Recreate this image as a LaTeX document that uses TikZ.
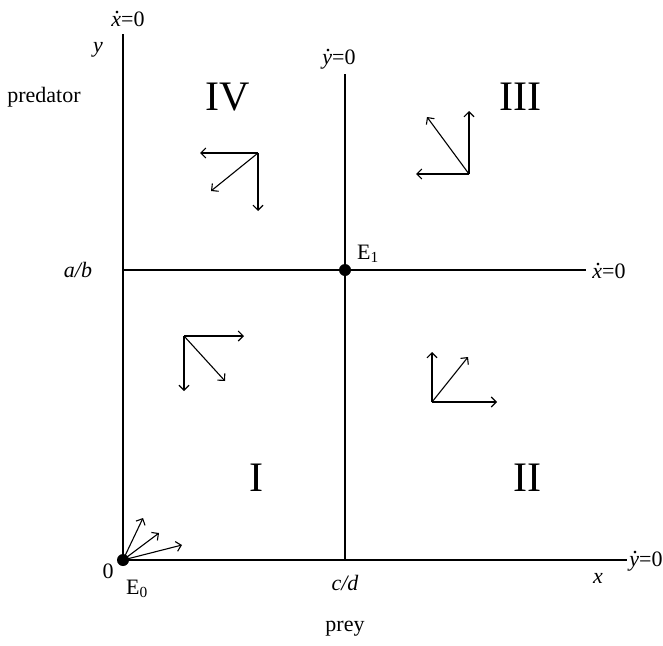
\documentclass[tikz,border=0pt]{standalone}
\usepackage{fontspec}
\setmainfont{Liberation Serif}
\usetikzlibrary{arrows.meta}
\newcommand\dotvar[1]{\makebox[0pt][l]{\hspace{0.13em}\raisebox{0.6em}{.}}\textit{#1}}
\begin{document}
\begin{tikzpicture}[x=1pt,y=-1pt,
  lbl/.style={inner sep=0pt,font=\fontsize{22}{24}\selectfont},
  roman/.style={inner sep=0pt,font=\fontsize{42}{44}\selectfont},
  axis/.style={line width=2.4pt},
  vec/.style={line width=1.1pt,-{Straight Barb[length=5pt,width=10pt,line width=1.1pt]}},
  eq/.style={circle,fill=black,inner sep=0pt,minimum size=12pt}]
\useasboundingbox (0,0) rectangle (663,645);
% axes and isoclines
\coordinate (ytop) at (123,34);
\coordinate (xend) at (627,560);
\coordinate (vtop) at (345,74);
\coordinate (vbot) at (345,560);
\coordinate (hleft) at (123,270);
\coordinate (hright) at (586,270);
\node[eq] (E0) at (123,560) {};
\node[eq] (E1) at (345,270) {};
\draw[axis] (ytop) -- (E0.center) -- (xend);
\draw[axis] (vtop) -- (vbot);
\draw[axis] (hleft) -- (hright);
% labels
\node[lbl] (xd1) at (128,19) {\dotvar{x}=0};
\node[lbl] (ylab) at (98,50) {\textit{y}};
\node[lbl] (pred) at (44,97) {predator};
\node[lbl] (yd1) at (339,59) {\dotvar{y}=0};
\node[roman] (IV) at (228,97) {IV};
\node[roman] (III) at (520,97) {III};
\node[lbl] (ab) at (78,270) {\textit{a/b}};
\node[lbl] (E1l) at (368,254) {E\textsubscript{1}};
\node[lbl] (xd2) at (609,271) {\dotvar{x}=0};
\node[roman] (I) at (256,478) {I};
\node[roman] (II) at (527,478) {II};
\node[lbl] (zero) at (108,571) {0};
\node[lbl] (E0l) at (137,589) {E\textsubscript{0}};
\node[lbl] (cd) at (345,583) {\textit{c/d}};
\node[lbl] (xlab) at (598,578) {\textit{x}};
\node[lbl] (yd2) at (646,561) {\dotvar{y}=0};
\node[lbl] (prey) at (345,629) {prey};
% region IV vectors
\coordinate (o4) at (258,153);
\coordinate (o4a) at (200,153);
\coordinate (o4b) at (258,211);
\coordinate (o4c) at (211,191);
\draw[vec] (o4) -- (o4a);
\draw[vec] (o4) -- (o4b);
\draw[vec] (o4) -- (o4c);
% region III vectors
\coordinate (o3) at (469,174);
\coordinate (o3a) at (416,174);
\coordinate (o3b) at (469,111);
\coordinate (o3c) at (427,117);
\draw[vec] (o3) -- (o3a);
\draw[vec] (o3) -- (o3b);
\draw[vec] (o3) -- (o3c);
% region I vectors
\coordinate (o1) at (184,336);
\coordinate (o1a) at (244,336);
\coordinate (o1b) at (184,391);
\coordinate (o1c) at (225,381);
\draw[vec] (o1) -- (o1a);
\draw[vec] (o1) -- (o1b);
\draw[vec] (o1) -- (o1c);
% region II vectors
\coordinate (o2) at (432,402);
\coordinate (o2a) at (497,402);
\coordinate (o2b) at (432,352);
\coordinate (o2c) at (468,357);
\draw[vec] (o2) -- (o2a);
\draw[vec] (o2) -- (o2b);
\draw[vec] (o2) -- (o2c);
% E0 vectors
\coordinate (e0a) at (143,518);
\coordinate (e0b) at (159,533);
\coordinate (e0c) at (182,545);
\draw[vec] (E0.center) -- (e0a);
\draw[vec] (E0.center) -- (e0b);
\draw[vec] (E0.center) -- (e0c);
\end{tikzpicture}
\end{document}
